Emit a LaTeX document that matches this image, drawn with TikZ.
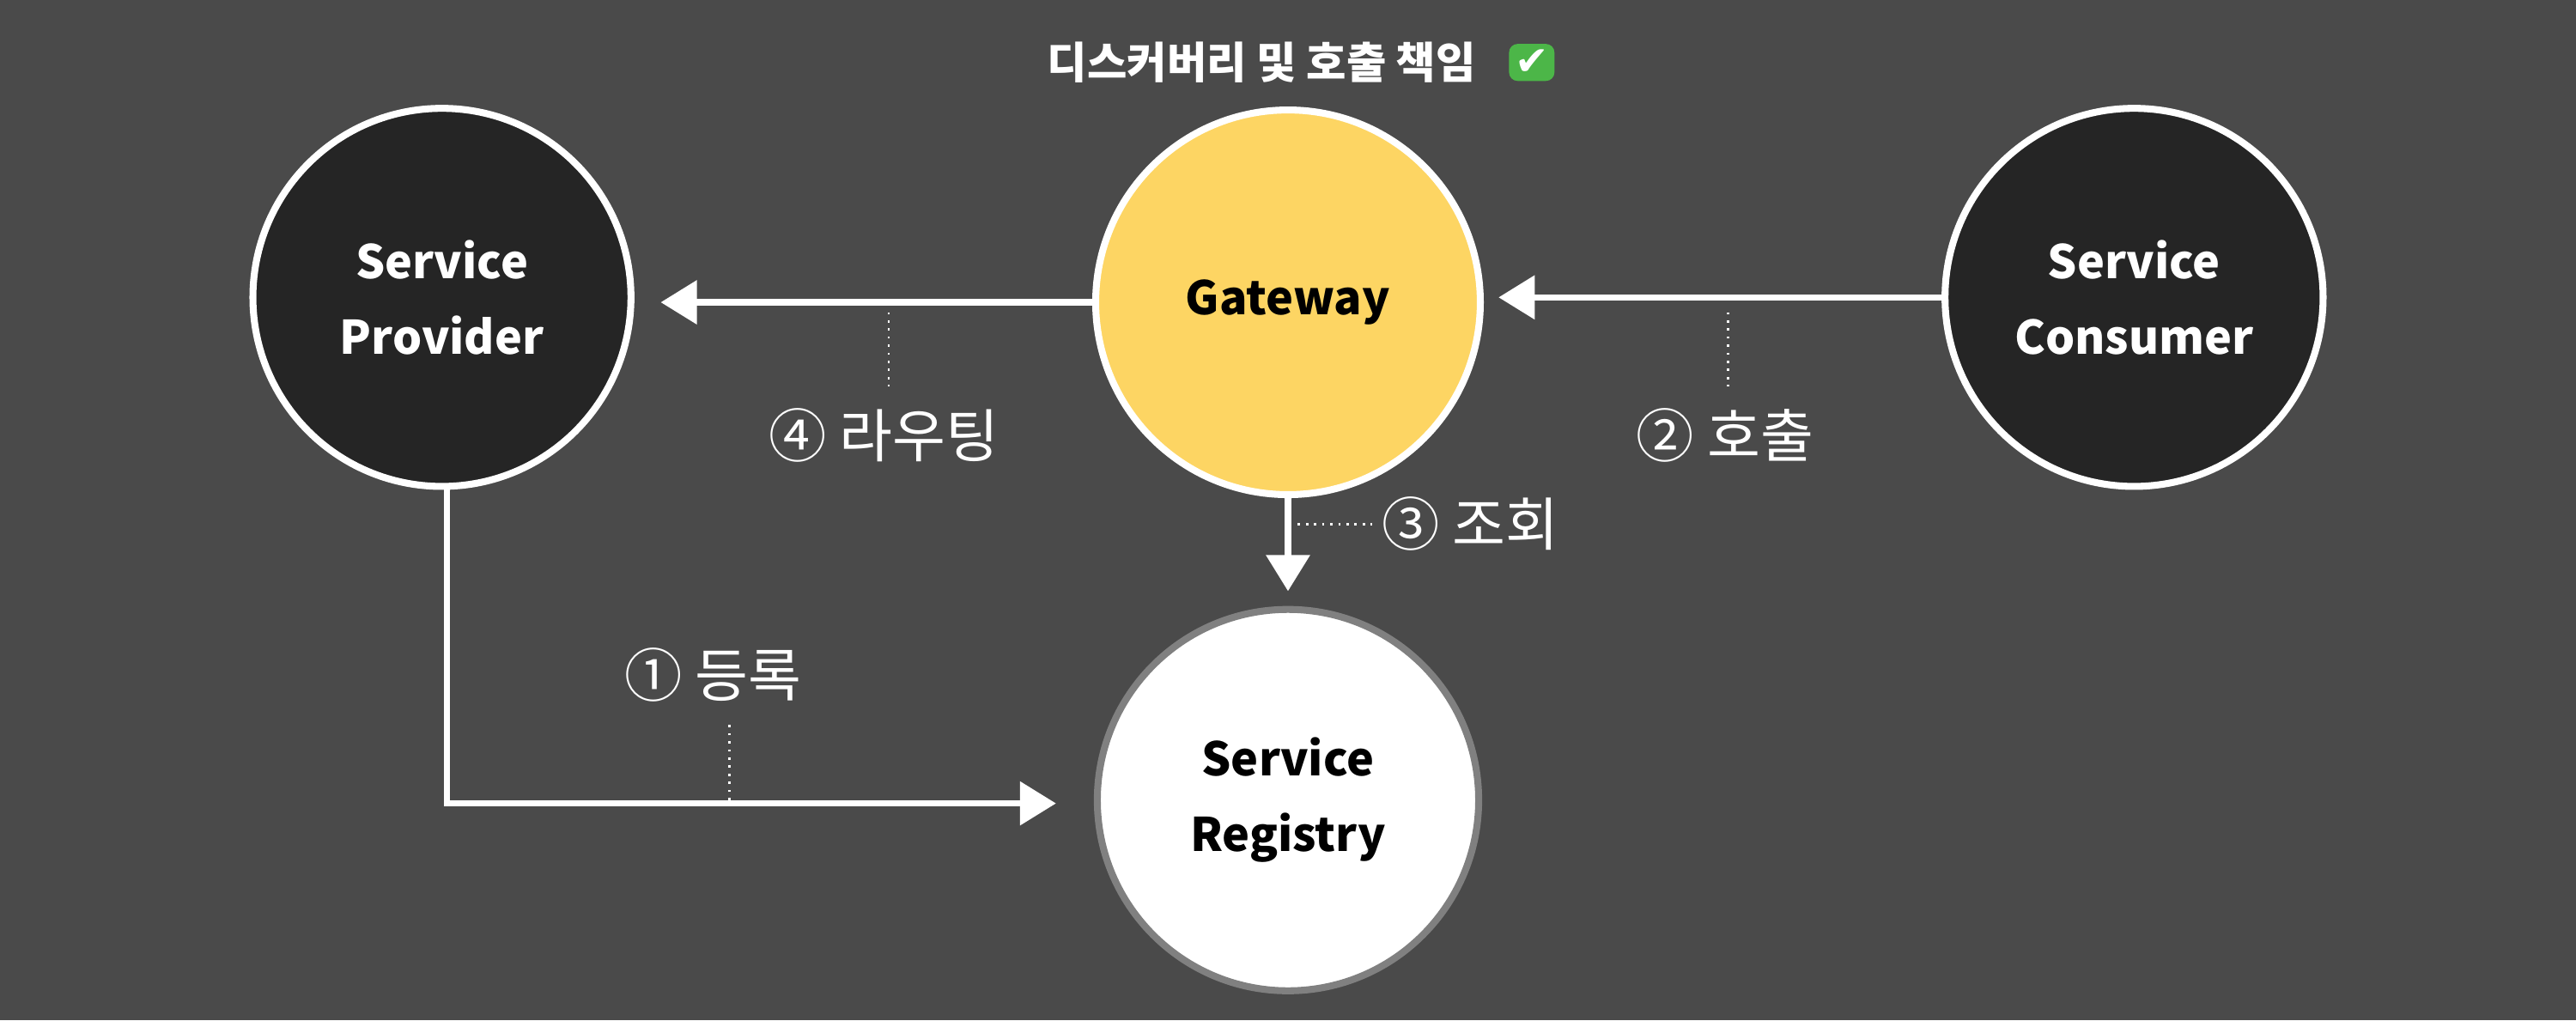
\documentclass[tikz,border=0pt]{standalone}
\usepackage{fontspec}
\setmainfont{Noto Sans CJK KR}
\newfontfamily\symfont{DejaVu Sans}
\usetikzlibrary{arrows.meta,positioning}
\definecolor{bgdark}{HTML}{4A4A4A}
\definecolor{nodedark}{HTML}{252525}
\definecolor{gateyellow}{HTML}{FDD563}
\definecolor{checkgreen}{HTML}{4CB648}
\begin{document}
\begin{tikzpicture}[
    x=0.01cm, y=-0.01cm,
    circ/.style={circle, draw=white, line width=1.2pt, minimum size=2.3cm, inner sep=0pt, align=center, font=\fontsize{8}{13}\selectfont\bfseries},
    arrow/.style={-{Triangle[length=0.22cm,width=0.26cm]}, draw=white, line width=1.1pt},
    tick/.style={white, densely dotted, line width=0.4pt},
    lbl/.style={text=white, font=\fontsize{10}{12}\selectfont}
]
    \fill[bgdark] (0,0) rectangle (1568,621);

    \node[circ, fill=nodedark, text=white] (provider) at (269,181) {Service\\Provider};
    \node[circ, fill=gateyellow, text=black, minimum size=2.34cm] (gateway) at (784,184) {Gateway};
    \node[circ, fill=nodedark, text=white] (consumer) at (1299,181) {Service\\Consumer};
    \node[circ, fill=white, draw=gray, text=black, minimum size=2.32cm] (registry) at (784,487) {Service\\Registry};

    \node[text=white, font=\fontsize{7.5}{9}\selectfont\bfseries] (title) at (768,38) {디스커버리 및 호출 책임};
    \node[right=2pt of title, fill=checkgreen, rounded corners=1.5pt, inner sep=1pt, text=white,
          font=\symfont\fontsize{7}{8}\selectfont\bfseries] (check) {✔};

    % connectors
    \coordinate (corner) at (272,489);
    \draw[arrow, shorten >=0.16cm] (gateway.west) -- (provider.east |- gateway.west);
    \draw[arrow, shorten >=0.09cm] (consumer.west) -- (gateway.east |- consumer.west);
    \draw[arrow, shorten >=0.09cm] (gateway.south) -- (registry.north);
    \draw[arrow, shorten >=0.23cm] (provider.south -| corner) -- (corner) -- (registry.west |- corner);

    % labels
    \draw[tick] (541,190) -- (541,235);
    \node[lbl] (route) at (538,265) {④ 라우팅};
    \draw[tick] (1052,190) -- (1052,235);
    \node[lbl] (call) at (1050,265) {② 호출};
    \draw[tick] (790,319) -- (835,319);
    \node[lbl] (lookup) at (895,319) {③ 조회};
    \draw[tick] (444,487) -- (444,440);
    \node[lbl] (register) at (434,411) {① 등록};
\end{tikzpicture}
\end{document}
